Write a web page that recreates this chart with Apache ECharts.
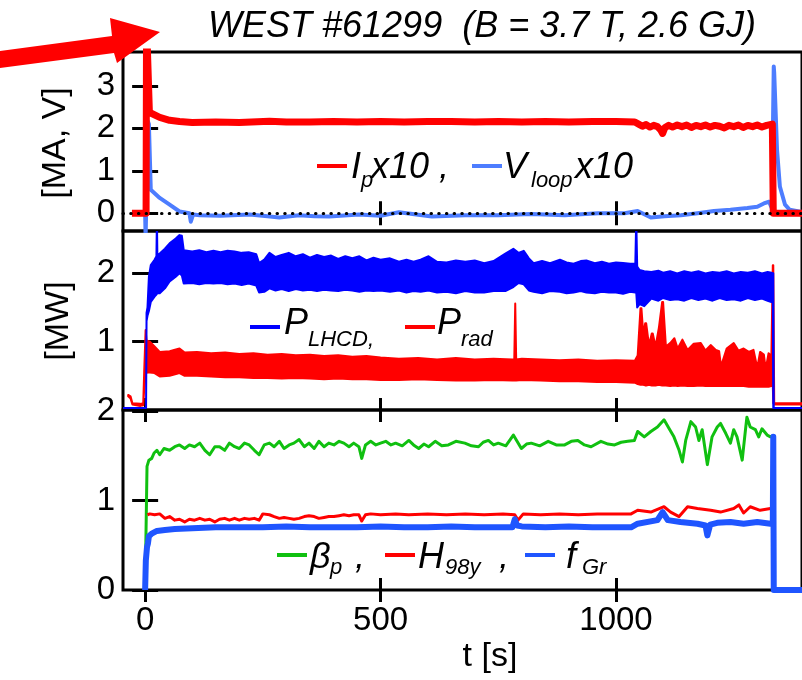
<!DOCTYPE html>
<html><head><meta charset="utf-8">
<script src="https://cdn.jsdelivr.net/npm/echarts@6/dist/echarts.min.js"></script>
<style>html,body{margin:0;padding:0;background:#fff}#c{width:802px;height:680px}</style>
</head><body><div id="c"></div>
<script>
// ---------------- axes / ticks ----------------
const X_MIN = -47, X_MAX = 1395;
const X_TICKS = [0, 500, 1000];
const Y1_TICKS = [0, 1, 2, 3];
const Y2_TICKS = [1, 2];
const Y3_TICKS = [0, 1, 2];
const Y1_RANGE = [-0.42, 3.80];
const Y2_RANGE = [0, 2.62];
const Y3_RANGE = [0, 2.01];

// ---------------- panel 1: Ip x10 ----------------
const ipT = [-28, 2, 3, 6, 9, 14, 31, 52, 73, 100, 150, 200, 264, 300, 350, 400, 450, 500, 550, 600, 650, 700, 750, 800, 850, 900, 950, 1000, 1040, 1048, 1056, 1064, 1072, 1080, 1088, 1095, 1099, 1104, 1112, 1120, 1130, 1140, 1150, 1160, 1170, 1180, 1190, 1200, 1210, 1220, 1230, 1240, 1250, 1260, 1270, 1280, 1290, 1300, 1310, 1320, 1332, 1334, 1395];
const ipV = [0, 0, 4.5, 4.5, 2.4, 2.35, 2.26, 2.19, 2.16, 2.14, 2.15, 2.14, 2.17, 2.15, 2.15, 2.16, 2.15, 2.16, 2.15, 2.16, 2.16, 2.15, 2.16, 2.15, 2.16, 2.15, 2.16, 2.16, 2.15, 2.1, 2.05, 2.09, 2.03, 2.07, 2.04, 1.96, 1.88, 2.02, 2.07, 2.03, 2.08, 2.04, 2.08, 2.02, 2.07, 2.04, 2.08, 2.03, 2.07, 2.05, 2.01, 2.07, 2.04, 2.08, 2.02, 2.07, 2.04, 2.08, 2.03, 2.07, 2.1, 0, 0];
// Vloop x10
const vlT = [-28, 0, 1, 4, 6, 8, 12, 14, 31, 52, 73, 94, 97, 99, 102, 116, 160, 222, 260, 285, 327, 360, 391, 454, 500, 539, 609, 680, 750, 820, 891, 962, 1018, 1046, 1074, 1103, 1138, 1173, 1208, 1243, 1279, 1300, 1314, 1325, 1331, 1335, 1336, 1342, 1348, 1359, 1369, 1395];
const vlV = [0, 0, -0.6, -0.6, 2.16, 2.1, 0.55, 0.51, 0.36, 0.2, 0.04, 0, -0.2, -0.2, -0.03, -0.05, -0.06, -0.03, -0.07, -0.1, -0.05, -0.07, -0.08, -0.03, -0.06, 0.02, -0.08, -0.05, -0.05, -0.02, -0.05, 0, 0, 0.05, -0.1, -0.07, -0.05, 0, 0.05, 0.08, 0.12, 0.15, 0.23, 0.27, 0.12, 3.46, 3.3, 1.49, 0.63, 0.2, 0.08, 0.03];

// ---------------- panel 2: P_LHCD (noise band) ----------------
const lhT = [-47, 2, 3, 5, 8, 12, 20, 24, 25, 26, 31, 42, 52, 65, 73, 78, 82, 100, 115, 130, 145, 160, 175, 190, 205, 220, 236, 242, 253, 264, 277, 290, 305, 320, 335, 350, 365, 380, 395, 410, 425, 440, 455, 470, 485, 500, 520, 539, 555, 570, 585, 602, 620, 640, 660, 680, 700, 720, 740, 765, 782, 793, 804, 815, 825, 843, 860, 881, 895, 910, 925, 937, 955, 970, 985, 1000, 1015, 1030, 1041, 1043, 1045, 1050, 1060, 1075, 1090, 1100, 1115, 1130, 1145, 1160, 1175, 1190, 1205, 1220, 1235, 1250, 1265, 1280, 1295, 1310, 1322, 1330, 1333, 1334, 1335, 1395];
const lhU = [0.03, 0.03, 1.42, 1.5, 1.95, 2.12, 2.2, 2.25, 2.8, 2.27, 2.29, 2.36, 2.44, 2.51, 2.56, 2.55, 2.34, 2.32, 2.34, 2.31, 2.33, 2.31, 2.33, 2.32, 2.3, 2.31, 2.28, 2.15, 2.2, 2.3, 2.24, 2.27, 2.3, 2.25, 2.28, 2.23, 2.27, 2.24, 2.26, 2.21, 2.25, 2.22, 2.25, 2.19, 2.23, 2.2, 2.22, 2.17, 2.2, 2.17, 2.2, 2.25, 2.17, 2.16, 2.19, 2.17, 2.19, 2.15, 2.18, 2.29, 2.36, 2.3, 2.33, 2.22, 2.15, 2.18, 2.15, 2.2, 2.16, 2.14, 2.18, 2.19, 2.15, 2.17, 2.14, 2.16, 2.15, 2.14, 2.14, 2.8, 2.1, 2.05, 2.03, 2.02, 2.04, 2.01, 2.03, 2.0, 2.03, 2.01, 2.03, 2.0, 2.02, 2.01, 2.03, 2.0, 2.02, 2.01, 2.03, 2.0, 2.02, 2.01, 2.0, 2.0, 0.03, 0.03];
const lhL = [0.03, 0.03, 1.3, 1.38, 1.45, 1.58, 1.66, 1.69, 1.7, 1.71, 1.71, 1.78, 1.88, 1.95, 2.0, 1.97, 1.85, 1.86, 1.84, 1.86, 1.85, 1.86, 1.84, 1.85, 1.83, 1.85, 1.82, 1.72, 1.73, 1.78, 1.75, 1.77, 1.74, 1.77, 1.75, 1.76, 1.74, 1.76, 1.75, 1.74, 1.76, 1.75, 1.73, 1.75, 1.74, 1.75, 1.73, 1.75, 1.72, 1.74, 1.73, 1.75, 1.72, 1.73, 1.71, 1.74, 1.72, 1.72, 1.74, 1.74, 1.8, 1.86, 1.84, 1.75, 1.73, 1.71, 1.74, 1.73, 1.71, 1.72, 1.74, 1.72, 1.71, 1.73, 1.72, 1.72, 1.7, 1.73, 1.72, 1.72, 1.5, 1.55, 1.52, 1.63, 1.6, 1.64, 1.61, 1.62, 1.6, 1.64, 1.61, 1.63, 1.6, 1.64, 1.61, 1.62, 1.6, 1.64, 1.61, 1.63, 1.6, 1.58, 1.6, 0.03, 0.03, 0.03];
// P_rad (noise band)
const prT = [-36, -31, -27, -10, -4, -2, 1, 3, 10, 20, 31, 52, 73, 84, 110, 140, 170, 200, 230, 260, 290, 320, 350, 380, 410, 440, 470, 500, 539, 580, 620, 660, 700, 740, 780, 784, 786, 788, 800, 840, 880, 920, 960, 1000, 1040, 1046, 1052, 1054, 1058, 1062, 1064, 1070, 1076, 1078, 1084, 1091, 1098, 1100, 1106, 1115, 1124, 1131, 1141, 1152, 1165, 1180, 1190, 1201, 1212, 1219, 1223, 1235, 1250, 1260, 1271, 1282, 1292, 1300, 1306, 1314, 1318, 1324, 1330, 1333, 1334, 1336, 1395];
const prU = [0.22, 0.2, 0.1, 0.09, 0.1, 0.56, 1.17, 1.02, 1.0, 0.93, 0.85, 0.86, 0.9, 0.84, 0.85, 0.83, 0.84, 0.82, 0.83, 0.81, 0.82, 0.8, 0.81, 0.79, 0.8, 0.78, 0.79, 0.77, 0.75, 0.76, 0.74, 0.76, 0.74, 0.75, 0.74, 0.75, 1.56, 0.74, 0.75, 0.74, 0.73, 0.74, 0.72, 0.73, 0.72, 0.8, 1.49, 1.49, 1.1, 1.27, 1.27, 0.95, 1.12, 1.12, 0.93, 1.2, 1.58, 1.58, 0.93, 0.98, 1.05, 0.9, 1.03, 0.88, 0.97, 0.98, 0.87, 0.95, 0.88, 0.86, 0.64, 0.9, 0.98, 0.87, 0.9, 0.85, 0.88, 0.62, 0.85, 0.81, 0.6, 0.83, 0.79, 2.12, 2.12, 0.1, 0.1];
const prL = [0.2, 0.17, 0.08, 0.06, 0.07, 0.3, 0.5, 0.55, 0.55, 0.54, 0.49, 0.5, 0.54, 0.5, 0.5, 0.49, 0.48, 0.48, 0.47, 0.47, 0.46, 0.47, 0.46, 0.45, 0.46, 0.45, 0.45, 0.44, 0.44, 0.45, 0.44, 0.43, 0.43, 0.44, 0.43, 0.43, 0.43, 0.43, 0.44, 0.43, 0.42, 0.42, 0.41, 0.41, 0.4, 0.38, 0.37, 0.37, 0.37, 0.36, 0.36, 0.37, 0.36, 0.36, 0.36, 0.37, 0.36, 0.36, 0.36, 0.35, 0.36, 0.35, 0.36, 0.35, 0.35, 0.36, 0.35, 0.35, 0.35, 0.35, 0.35, 0.35, 0.35, 0.35, 0.35, 0.34, 0.34, 0.34, 0.34, 0.34, 0.34, 0.34, 0.35, 0.35, 0.1, 0.08, 0.08];

// ---------------- panel 3 ----------------
const bpT = [0, 4, 8, 14, 19, 25, 31, 40, 52, 63, 73, 84, 94, 105, 116, 127, 137, 148, 158, 169, 179, 190, 200, 211, 221, 232, 242, 253, 264, 274, 285, 295, 306, 316, 327, 338, 348, 359, 369, 380, 390, 401, 412, 422, 433, 443, 454, 460, 468, 479, 490, 500, 511, 522, 532, 546, 560, 570, 581, 592, 602, 616, 630, 644, 660, 679, 693, 708, 718, 729, 740, 750, 766, 782, 799, 810, 820, 838, 856, 873, 891, 905, 919, 933, 947, 968, 983, 997, 1011, 1025, 1039, 1046, 1060, 1074, 1088, 1102, 1113, 1123, 1134, 1141, 1148, 1159, 1169, 1176, 1183, 1194, 1204, 1215, 1222, 1233, 1243, 1250, 1257, 1268, 1275, 1278, 1285, 1296, 1303, 1310, 1321, 1328, 1333, 1335, 1395];
const bpV = [0, 1.38, 1.45, 1.47, 1.53, 1.56, 1.51, 1.58, 1.56, 1.6, 1.62, 1.58, 1.62, 1.6, 1.64, 1.56, 1.51, 1.6, 1.6, 1.56, 1.64, 1.6, 1.58, 1.64, 1.62, 1.56, 1.51, 1.62, 1.64, 1.6, 1.66, 1.58, 1.62, 1.64, 1.68, 1.6, 1.64, 1.58, 1.66, 1.6, 1.64, 1.62, 1.66, 1.64, 1.6, 1.64, 1.6, 1.47, 1.62, 1.66, 1.62, 1.64, 1.66, 1.62, 1.64, 1.61, 1.67, 1.62, 1.58, 1.63, 1.6, 1.66, 1.61, 1.62, 1.66, 1.64, 1.61, 1.6, 1.65, 1.67, 1.62, 1.64, 1.61, 1.73, 1.58, 1.63, 1.64, 1.61, 1.66, 1.62, 1.62, 1.66, 1.67, 1.62, 1.6, 1.66, 1.63, 1.62, 1.65, 1.66, 1.67, 1.77, 1.71, 1.77, 1.82, 1.9, 1.8, 1.71, 1.56, 1.43, 1.67, 1.88, 1.82, 1.67, 1.79, 1.4, 1.71, 1.82, 1.86, 1.75, 1.64, 1.79, 1.71, 1.45, 1.79, 1.93, 1.82, 1.79, 1.71, 1.8, 1.73, 1.71, 1.72, 0, 0];
const h9T = [5, 10, 20, 31, 42, 52, 63, 73, 84, 94, 105, 116, 127, 137, 148, 158, 169, 179, 190, 200, 211, 221, 232, 242, 250, 264, 274, 285, 295, 306, 316, 327, 338, 348, 359, 369, 380, 390, 401, 412, 422, 433, 443, 454, 460, 468, 479, 500, 532, 560, 600, 640, 680, 720, 760, 785, 792, 803, 840, 880, 920, 960, 1000, 1032, 1046, 1074, 1102, 1116, 1134, 1152, 1173, 1201, 1222, 1250, 1261, 1271, 1285, 1306, 1328, 1333];
const h9V = [0.84, 0.85, 0.84, 0.85, 0.8, 0.82, 0.78, 0.79, 0.76, 0.79, 0.78, 0.8, 0.78, 0.79, 0.76, 0.79, 0.8, 0.78, 0.8, 0.78, 0.8, 0.79, 0.8, 0.78, 0.85, 0.84, 0.82, 0.8, 0.81, 0.8, 0.79, 0.8, 0.82, 0.83, 0.82, 0.8, 0.81, 0.82, 0.82, 0.83, 0.84, 0.83, 0.84, 0.84, 0.77, 0.84, 0.85, 0.84, 0.85, 0.84, 0.85, 0.84, 0.85, 0.84, 0.85, 0.84, 0.78, 0.85, 0.84, 0.85, 0.84, 0.85, 0.85, 0.85, 0.89, 0.87, 0.93, 0.87, 0.82, 0.93, 0.91, 0.89, 0.87, 0.91, 0.95, 0.86, 0.93, 0.89, 0.91, 0.91];
const fgT = [0, 1.5, 4, 6, 8, 14, 25, 42, 63, 100, 150, 200, 250, 300, 350, 400, 450, 500, 550, 600, 650, 700, 750, 780, 785, 790, 800, 850, 900, 950, 1000, 1032, 1046, 1088, 1099, 1110, 1137, 1173, 1190, 1194, 1200, 1215, 1243, 1271, 1300, 1328, 1333, 1334, 1335, 1395];
const fgV = [0, 0.33, 0.48, 0.52, 0.6, 0.63, 0.66, 0.67, 0.68, 0.69, 0.7, 0.7, 0.7, 0.71, 0.7, 0.7, 0.7, 0.71, 0.7, 0.7, 0.71, 0.7, 0.7, 0.7, 0.79, 0.72, 0.71, 0.7, 0.71, 0.7, 0.7, 0.7, 0.74, 0.78, 0.87, 0.78, 0.76, 0.74, 0.72, 0.61, 0.73, 0.75, 0.76, 0.74, 0.76, 0.74, 0.74, 1.71, 0, 0];

// ---------------- build chart ----------------
const FONT = "'Liberation Sans', Arial, Helvetica, sans-serif";
const RED = '#ff0000', VLOOP = '#4d7dff', LHCD = '#0000ff', GREEN = '#10c010', FGR = '#1f55ff';
const zip = (T, V) => T.map((t, i) => [t, V[i]]);

const grids = [
  {left: 123, width: 682, top: 52, height: 179},
  {left: 123, width: 682, top: 231, height: 179},
  {left: 123, width: 682, top: 410, height: 180}
].map(g => Object.assign(g, {show: true, borderColor: '#000', borderWidth: 3, backgroundColor: 'transparent'}));

const tickStyle = {inside: true, length: 12, lineStyle: {color: '#000', width: 3}};
const xAxes = [], yAxes = [];
const yRanges = [Y1_RANGE, Y2_RANGE, Y3_RANGE];
const yTicks = [Y1_TICKS, Y2_TICKS, Y3_TICKS];
const fmt = v => String(v);
for (let i = 0; i < 3; i++) {
  ['bottom', 'top'].forEach(pos => {
    xAxes.push({
      type: 'value', gridIndex: i, position: pos, min: X_MIN, max: X_MAX,
      axisLine: {show: false}, splitLine: {show: false},
      axisTick: Object.assign({customValues: X_TICKS}, tickStyle),
      axisLabel: {show: (i === 2 && pos === 'bottom'), customValues: X_TICKS, formatter: fmt, fontSize: 33, color: '#000', fontFamily: FONT, margin: 14}
    });
  });
  ['left', 'right'].forEach(pos => {
    yAxes.push({
      type: 'value', gridIndex: i, position: pos, min: yRanges[i][0], max: yRanges[i][1],
      axisLine: {show: false}, splitLine: {show: false},
      axisTick: Object.assign({customValues: yTicks[i]}, tickStyle, {length: 13}),
      axisLabel: {show: pos === 'left', customValues: yTicks[i], formatter: fmt, fontSize: 33, color: '#000', fontFamily: FONT, margin: 8}
    });
  });
}

function line(T, V, color, width, p, extra) {
  return Object.assign({
    type: 'line', xAxisIndex: p * 2, yAxisIndex: p * 2, data: zip(T, V),
    symbol: 'none', showSymbol: false, clip: true, animation: false, silent: true,
    lineStyle: {color: color, width: width, join: 'round'}, itemStyle: {color: color}
  }, extra || {});
}
function band(T, U, L, color, p) {
  return {
    type: 'custom', xAxisIndex: p * 2, yAxisIndex: p * 2, data: [[T[0], U[0]]],
    animation: false, silent: true,
    renderItem: function (params, api) {
      const cs = params.coordSys;
      const pts = [];
      for (let i = 0; i < T.length; i++) pts.push(api.coord([T[i], U[i]]));
      for (let i = T.length - 1; i >= 0; i--) pts.push(api.coord([T[i], L[i]]));
      return {
        type: 'group',
        clipPath: {type: 'rect', shape: {x: cs.x, y: cs.y, width: cs.width, height: cs.height}},
        children: [{type: 'polygon', shape: {points: pts}, style: {fill: color, stroke: color, lineWidth: 2, lineJoin: 'round'}}]
      };
    }
  };
}

const series = [
  line(vlT, vlV, VLOOP, 4, 0, {
    markLine: {silent: true, symbol: 'none', label: {show: false}, animation: false,
      lineStyle: {type: [0.5, 7.2], cap: 'round', color: '#000', width: 3}, data: [{yAxis: 0}]}
  }),
  line(ipT, ipV, RED, 7, 0),
  band(prT, prU, prL, RED, 1),
  band(lhT, lhU, lhL, LHCD, 1),
  line(bpT, bpV, GREEN, 3, 2),
  line(h9T, h9V, RED, 3, 2),
  line(fgT, fgV, FGR, 6, 2)
];

// ---------------- texts / decorations ----------------
function txt(x, y, s, size, italic, align) {
  return {type: 'text', x: x, y: y, silent: true, z: 10,
    style: {text: s, fontSize: size, fontStyle: italic ? 'italic' : 'normal', fontFamily: FONT, fill: '#000', align: align || 'left', verticalAlign: 'middle'}};
}
function dash(x1, x2, y, color) {
  return {type: 'line', silent: true, z: 10, shape: {x1: x1, y1: y, x2: x2, y2: y}, style: {stroke: color, lineWidth: 4}};
}
const graphic = [
  {type: 'polygon', silent: true, z: 10, shape: {points: [[0, 51], [112, 36], [110, 18], [160, 32], [117, 63], [114, 53], [0, 68]]}, style: {fill: '#ff0000'}},
  txt(482, 27, 'WEST #61299  (B = 3.7 T, 2.6 GJ)', 36, true, 'center'),
  {type: 'text', x: 56, y: 143, rotation: Math.PI / 2, silent: true, z: 10, style: {text: '[MA, V]', fontSize: 34, fontFamily: FONT, fill: '#000', align: 'center', verticalAlign: 'middle'}},
  {type: 'text', x: 59, y: 321, rotation: Math.PI / 2, silent: true, z: 10, style: {text: '[MW]', fontSize: 34, fontFamily: FONT, fill: '#000', align: 'center', verticalAlign: 'middle'}},
  txt(490, 657, 't [s]', 34, false, 'center'),
  // legend panel 1
  dash(317, 347, 166, RED),
  txt(351, 168, 'I', 36, true),
  txt(361, 181, 'p', 22, true),
  txt(371, 168, 'x10 ,', 36, true),
  dash(472, 502, 166, VLOOP),
  txt(503, 168, 'V', 36, true),
  txt(531, 181, 'loop', 22, true),
  txt(575, 168, 'x10', 36, true),
  // legend panel 2
  dash(250, 280, 327, LHCD),
  txt(284, 324, 'P', 36, true),
  txt(308, 340, 'LHCD,', 22, true),
  dash(405, 435, 327, RED),
  txt(437, 324, 'P', 36, true),
  txt(461, 340, 'rad', 22, true),
  // legend panel 3
  dash(277, 307, 555, GREEN),
  txt(310, 558, 'β', 36, true),
  txt(330, 568, 'p', 22, true),
  txt(355, 558, ',', 36, true),
  dash(385, 415, 555, RED),
  txt(418, 558, 'H', 36, true),
  txt(445, 568, '98y', 22, true),
  txt(499, 558, ',', 36, true),
  dash(525, 555, 555, FGR),
  txt(566, 558, 'f', 36, true),
  txt(582, 568, 'Gr', 22, true)
];

const chart = echarts.init(document.getElementById('c'), null, {renderer: 'canvas'});
chart.setOption({
  animation: false,
  backgroundColor: '#fff',
  grid: grids, xAxis: xAxes, yAxis: yAxes, series: series, graphic: graphic
});
</script></body></html>
